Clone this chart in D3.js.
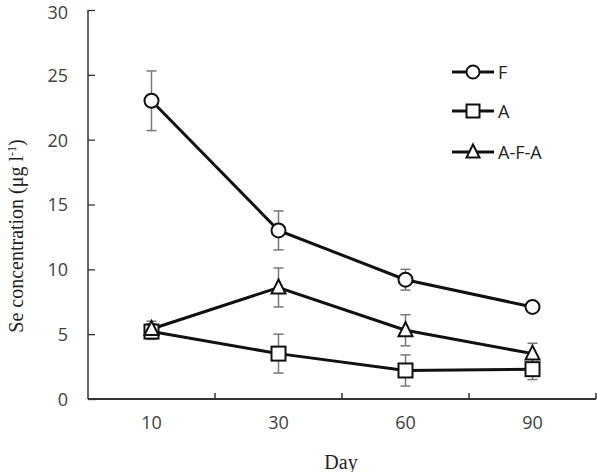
<!DOCTYPE html>
<html><head><meta charset="utf-8">
<script src="https://cdn.jsdelivr.net/npm/d3@7"></script>
<style>body{margin:0;background:#fff}</style>
</head><body>
<svg id="c" width="597" height="472"></svg>
<script>
const days = ["10","30","60","90"];
const seriesNames = ["F","A","A-F-A"];
const valF = [23.0, 13.0, 9.2, 7.1];
const errF = [2.3, 1.5, 0.8, 0.3];
const valA = [5.2, 3.5, 2.2, 2.3];
const errA = [0.6, 1.5, 1.2, 0.8];
const valAFA = [5.4, 8.6, 5.3, 3.5];
const errAFA = [0.6, 1.5, 1.2, 0.8];
const yTicks = [0,5,10,15,20,25,30];

const svg = d3.select("#c");
const x = d3.scaleBand().domain(days).range([88, 596]);
const y = d3.scaleLinear().domain([0,30]).range([399, 10]);
const tickFont = "Open Sans, Lato, sans-serif";
const gray = "#404040";

// y axis
const ya = svg.append("g").attr("transform","translate(88,0)")
  .call(d3.axisRight(y).tickValues(yTicks).tickSize(7).tickFormat(d3.format("d")));
ya.select(".domain").attr("stroke","#333").attr("stroke-width",1.5).attr("d","M0,10V399");
ya.selectAll(".tick line").attr("stroke","#333").attr("stroke-width",1.3);
ya.selectAll(".tick text").attr("x",-20).attr("text-anchor","end").attr("dx",0).attr("dy","0.36em")
  .attr("fill",gray).style("font-family",tickFont).style("font-size","18px");
ya.selectAll(".tick").filter(d=>d===30).select("text").attr("dy","0.45em");

// x axis
const xa = svg.append("g").attr("transform","translate(0,399)")
  .call(d3.axisBottom(x).tickSize(0).tickPadding(17));
xa.select(".domain").attr("stroke","#333").attr("stroke-width",2).attr("d","M88,0H596");
xa.selectAll(".tick text").attr("fill",gray).style("font-family",tickFont).style("font-size","18px");
// boundary ticks between categories (inward)
const bounds = days.map(d => x(d) + x.bandwidth());
svg.append("g").selectAll("line").data(bounds).join("line")
  .attr("x1",d=>d).attr("x2",d=>d).attr("y1",399).attr("y2",393)
  .attr("stroke","#333").attr("stroke-width",1.5);

// labels
svg.append("text").attr("x",341).attr("y",469).attr("text-anchor","middle")
  .style("font-family","Liberation Serif, Times New Roman, serif").style("font-size","20px").attr("fill","#222").text("Day");
const yl = svg.append("text").attr("transform","translate(23,236) rotate(-90)").attr("text-anchor","middle")
  .style("font-family","Liberation Serif, Times New Roman, serif").style("font-size","20px").attr("fill","#222");
yl.append("tspan").text("Se concentration (μg l");
yl.append("tspan").attr("dy",-7).style("font-size","12px").text("-1");
yl.append("tspan").attr("dy",7).text(")");

const series = [
  {name:seriesNames[0], vals:valF, errs:errF, shape:"circle"},
  {name:seriesNames[1], vals:valA, errs:errA, shape:"square"},
  {name:seriesNames[2], vals:valAFA, errs:errAFA, shape:"triangle"}
];
const cx = d => x(d) + x.bandwidth()/2;
const line = d3.line().x(d=>cx(d.day)).y(d=>y(d.v));

function marker(g, shape, px, py, sz){
  const r = sz || 7;
  if(shape==="circle") g.append("circle").attr("cx",px).attr("cy",py).attr("r",r)
     .attr("fill","#fff").attr("stroke","#111").attr("stroke-width",2);
  else if(shape==="square") g.append("rect").attr("x",px-r).attr("y",py-r).attr("width",2*r).attr("height",2*r)
     .attr("fill","#fff").attr("stroke","#111").attr("stroke-width",2);
  else g.append("path").attr("d",`M${px},${py-r-1}L${px+r},${py+r-1}L${px-r},${py+r-1}Z`)
     .attr("fill","#fff").attr("stroke","#111").attr("stroke-width",2);
}

// error bars
series.forEach(s=>{
  const g = svg.append("g").attr("stroke","#777").attr("stroke-width",1.5);
  days.forEach((d,i)=>{
    const px = cx(d), t = y(s.vals[i]+s.errs[i]), b = y(s.vals[i]-s.errs[i]);
    g.append("line").attr("x1",px).attr("x2",px).attr("y1",t).attr("y2",b);
    g.append("line").attr("x1",px-5).attr("x2",px+5).attr("y1",t).attr("y2",t);
    g.append("line").attr("x1",px-5).attr("x2",px+5).attr("y1",b).attr("y2",b);
  });
});
// lines
series.forEach(s=>{
  svg.append("path").datum(days.map((d,i)=>({day:d, v:s.vals[i]})))
    .attr("d",line).attr("fill","none").attr("stroke","#111").attr("stroke-width",3);
});
// markers
series.forEach(s=>{
  const g = svg.append("g");
  days.forEach((d,i)=>marker(g, s.shape, cx(d), y(s.vals[i])));
});

// legend
const legY = [72,111,152];
series.forEach((s,i)=>{
  const g = svg.append("g");
  g.append("line").attr("x1",452).attr("x2",494).attr("y1",legY[i]).attr("y2",legY[i])
    .attr("stroke","#111").attr("stroke-width",3);
  marker(g, s.shape, 473, legY[i], 6.5);
  g.append("text").attr("x",498).attr("y",legY[i]+7).style("font-family",tickFont)
    .style("font-size","18px").attr("fill","#222").text(s.name);
});
</script>
</body></html>
